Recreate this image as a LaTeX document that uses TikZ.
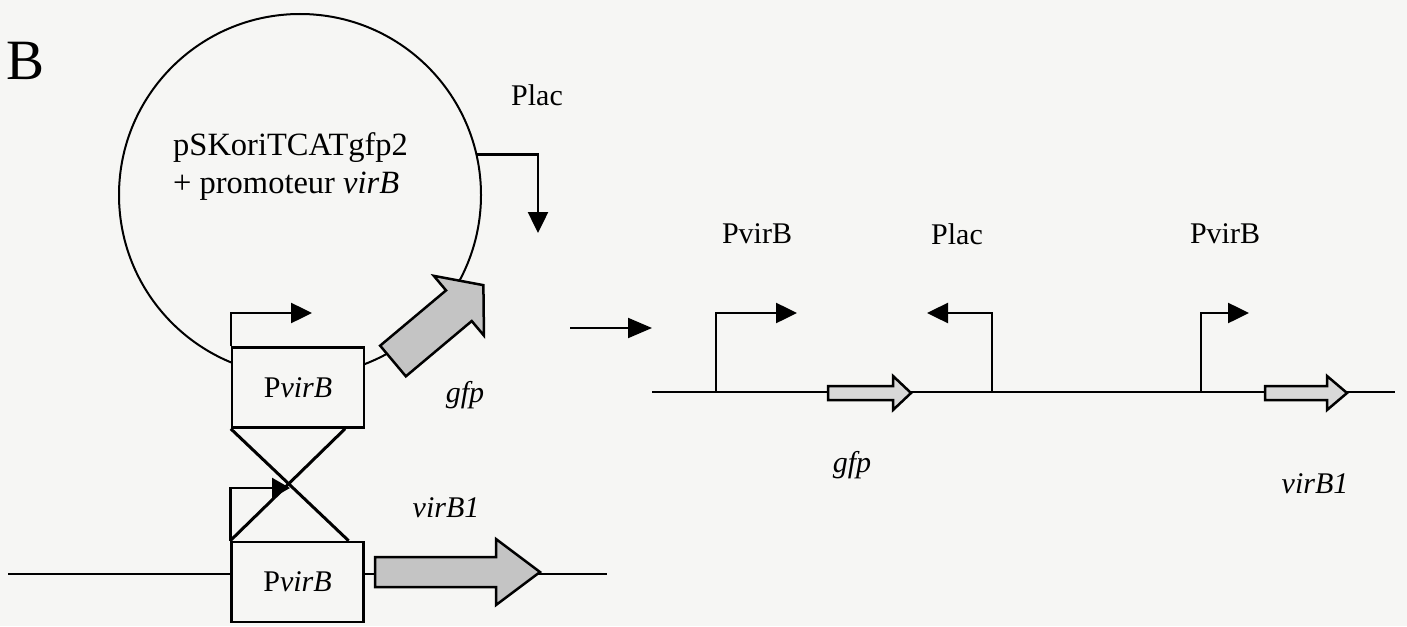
\documentclass[tikz,border=0pt]{standalone}
\usepackage{fontspec}
\setmainfont{Liberation Serif}
\usetikzlibrary{arrows.meta,calc}
\definecolor{bg}{RGB}{246,246,244}
\definecolor{genefill}{RGB}{196,196,196}
\definecolor{smallfill}{RGB}{216,216,216}
\begin{document}
\begin{tikzpicture}[x=1pt,y=-1pt,
  lbl/.style={font=\fontsize{30}{36}\selectfont, inner sep=0pt},
  plbl/.style={font=\fontsize{32.5}{38}\selectfont, inner sep=0pt, anchor=base west},
  pbox/.style={draw, line width=2.5pt, fill=bg, minimum width=132pt, minimum height=80pt, inner sep=0pt, font=\fontsize{30}{36}\selectfont},
  prom/.style={line width=2.5pt, -{Triangle[length=21pt,width=20pt]}},
  dna/.style={line width=2pt},
  cross/.style={line width=3pt},
  bigarrow/.style={draw, line width=2.5pt, fill=genefill, line join=miter},
  smallarrow/.style={draw, line width=2.5pt, fill=smallfill, line join=miter},
]
\fill[bg] (0,0) rectangle (1407,626);
\useasboundingbox (0,0) rectangle (1407,626);

% panel letter
\node[font=\fontsize{57}{60}\selectfont, inner sep=0pt] (labB) at (26,61) {B};

% plasmid
\node[circle, draw, line width=2pt, minimum size=362pt, inner sep=0pt, outer sep=0pt] (plasmid) at (300,195) {};
\node[plbl] (ptxt1) at (173,155) {pSKoriTCATgfp2};
\node[plbl] (ptxt2) at (173,193) {+ promoteur \textit{virB}};

% Plac on plasmid
\node[lbl, anchor=base] (placL) at (537,105) {Plac};
\coordinate (placTip) at (538,233);
\draw[prom] (plasmid.13.6) -| (placTip);

% gfp arrow on plasmid
\begin{scope}[shift={(393,361)}, rotate=40]
  \draw[bigarrow] (0,-20) -- (86,-20) -- (86,-39) -- (118,0) -- (86,39) -- (86,20) -- (0,20) -- cycle;
\end{scope}
\node[lbl, font=\fontsize{30}{36}\selectfont\itshape] (gfpL) at (465,395) {gfp};

% upper PvirB box
\node[pbox] (ub) at (298,387.5) {P\textit{virB}};
\coordinate (ubTip) at (312,313);
\draw[prom] (ub.north west) |- (ubTip);

% chromosome line
\coordinate (dnaL) at (8,574);
\coordinate (dnaR) at (607,574);
\draw[dna] (dnaL) -- (dnaR);

% lower PvirB box
\node[pbox] (lb) at (297.5,582) {P\textit{virB}};

% virB1 arrow
\draw[bigarrow] (375,557) -- (496,557) -- (496,539) -- (540,572) -- (496,605) -- (496,587) -- (375,587) -- cycle;
\node[lbl, font=\fontsize{30}{36}\selectfont\itshape] (virL) at (446,508) {virB1};

% lower promoter
\coordinate (lbTip) at (290,488);
\draw[prom, -{Triangle[length=18pt,width=20pt]}] (lb.north west) |- (lbTip);

% crossover
\draw[cross] (ub.south west) -- ($(lb.north west)!0.88!(lb.north east)$);
\draw[cross] ($(ub.south west)!0.85!(ub.south east)$) -- (lb.north west);

% result arrow
\coordinate (arrL) at (570,328);
\coordinate (arrR) at (652,328);
\draw[dna, -{Triangle[length=24pt,width=20pt]}] (arrL) -- (arrR);

% right DNA
\coordinate (rL) at (652,392);
\coordinate (rR) at (1395,392);
\draw[dna] (rL) -- (rR);

\node[lbl] (pv1) at (757,234) {PvirB};
\node[lbl] (pl2) at (957,234) {Plac};
\node[lbl] (pv2) at (1225,234) {PvirB};

\coordinate (p1base) at (716,392);
\coordinate (p1tip) at (797,313);
\draw[prom] (p1base) |- (p1tip);
\coordinate (p2base) at (992,392);
\coordinate (p2tip) at (927,313);
\draw[prom] (p2base) |- (p2tip);
\coordinate (p3base) at (1201,392);
\coordinate (p3tip) at (1249,313);
\draw[prom] (p3base) |- (p3tip);

\draw[smallarrow] (828,386) -- (893,386) -- (893,376) -- (911,393) -- (893,410) -- (893,400) -- (828,400) -- cycle;
\draw[smallarrow] (1265,386) -- (1327,386) -- (1327,376) -- (1347,393) -- (1327,410) -- (1327,400) -- (1265,400) -- cycle;

\node[lbl, font=\fontsize{30}{36}\selectfont\itshape] (gfpR) at (852,465) {gfp};
\node[lbl, font=\fontsize{30}{36}\selectfont\itshape] (virR) at (1315,484) {virB1};
\end{tikzpicture}
\end{document}
